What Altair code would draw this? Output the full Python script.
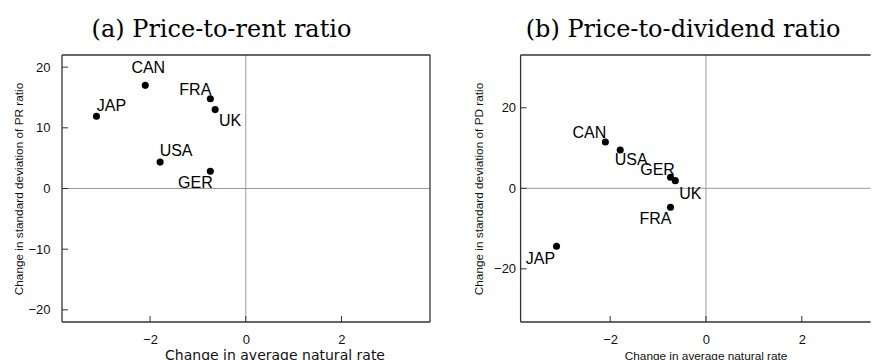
import altair as alt
import pandas as pd

# ---------------- data ----------------
countries = ["CAN", "JAP", "FRA", "UK", "USA", "GER"]
natural_rate_change = [-2.10, -3.12, -0.74, -0.64, -1.79, -0.74]
pr_sd_change = [17.0, 11.9, 14.8, 13.0, 4.35, 2.85]
pd_sd_change = [11.5, -14.4, -4.7, 1.9, 9.5, 2.75]

pr_y_ticks = [-20, -10, 0, 10, 20]
pd_y_ticks = [-20, 0, 20]
x_ticks = [-2, 0, 2]

df_pr = pd.DataFrame({"country": countries, "x": natural_rate_change, "y": pr_sd_change})
df_pd = pd.DataFrame({"country": countries, "x": natural_rate_change, "y": pd_sd_change})

# label offsets (pixels, label centre relative to point centre) -- styling only
pr_offsets = {"CAN": (3, -17), "JAP": (15, -10), "FRA": (-15, -9),
              "UK": (15, 11), "USA": (16, -11), "GER": (-15, 12)}
pd_offsets = {"CAN": (-16, -9), "JAP": (-16, 13), "FRA": (-15, 11.5),
              "UK": (15, 13), "USA": (11, 10), "GER": (-13, -7)}

H = 267
SANS = "Liberation Sans"
FRAME = "#333"


def panel(df, xdom, ydom, yticks, width, title, title_dx, ytitle,
          ylabel_pad, xtitle_font, xtitle_size, xtitle_x, ytitle_x, offsets,
          right_frame):
    xs = alt.Scale(domain=xdom, nice=False, zero=False)
    ys = alt.Scale(domain=ydom, nice=False, zero=False)
    xaxis = alt.Axis(values=x_ticks, ticks=False, domain=False, grid=False,
                     labelFont=SANS, labelFontSize=13, labelColor="#111",
                     labelPadding=11, title="Change in average natural rate",
                     titleFont=xtitle_font, titleFontSize=xtitle_size,
                     titleFontWeight="normal", titleColor="#111",
                     titleX=xtitle_x, titleY=37, titleBaseline="alphabetic",
                     titleAlign="center")
    yaxis = alt.Axis(values=yticks, ticks=False, domain=False, grid=False,
                     labelFont=SANS, labelFontSize=13, labelColor="#111",
                     labelPadding=ylabel_pad, title=ytitle,
                     titleFont=SANS, titleFontSize=11.8,
                     titleFontWeight="normal", titleColor="#111",
                     titleX=ytitle_x, titleY=H / 2, titleAngle=270,
                     titleBaseline="middle", titleAlign="center")

    pts = alt.Chart(df).mark_circle(size=50, color="black", opacity=1).encode(
        x=alt.X("x:Q", scale=xs, axis=xaxis),
        y=alt.Y("y:Q", scale=ys, axis=yaxis),
    )
    zero_x = alt.Chart(pd.DataFrame({"x": [0]})).mark_rule(
        color="#9a9a9a", strokeWidth=1).encode(x=alt.X("x:Q", scale=xs, axis=xaxis))
    zero_y = alt.Chart(pd.DataFrame({"y": [0]})).mark_rule(
        color="#9a9a9a", strokeWidth=1).encode(y=alt.Y("y:Q", scale=ys, axis=yaxis))

    ytick = alt.Chart(pd.DataFrame({"y": yticks})).mark_rule(
        color=FRAME, strokeWidth=1).encode(
        y=alt.Y("y:Q", scale=ys, axis=yaxis), x=alt.value(0), x2=alt.value(6))
    xtick = alt.Chart(pd.DataFrame({"x": x_ticks})).mark_rule(
        color=FRAME, strokeWidth=1).encode(
        x=alt.X("x:Q", scale=xs, axis=xaxis), y=alt.value(H), y2=alt.value(H - 6))

    # plot frame
    base = alt.Chart(pd.DataFrame({"k": [0]}))
    frame = [
        base.mark_rule(color=FRAME, strokeWidth=1.3).encode(
            x=alt.value(0), x2=alt.value(width), y=alt.value(0)),
        base.mark_rule(color=FRAME, strokeWidth=1.3).encode(
            x=alt.value(0), x2=alt.value(width), y=alt.value(H)),
        base.mark_rule(color=FRAME, strokeWidth=1.3).encode(
            x=alt.value(0), y=alt.value(0), y2=alt.value(H)),
    ]
    if right_frame:
        frame.append(base.mark_rule(color=FRAME, strokeWidth=1.3).encode(
            x=alt.value(width), y=alt.value(0), y2=alt.value(H)))

    labels = []
    for c in countries:
        dx, dy = offsets[c]
        labels.append(
            alt.Chart(df).transform_filter(alt.datum.country == c).mark_text(
                font=SANS, fontSize=16, color="black", align="center",
                baseline="middle", dx=dx, dy=dy).encode(
                x=alt.X("x:Q", scale=xs, axis=xaxis),
                y=alt.Y("y:Q", scale=ys, axis=yaxis), text="country:N"))

    return alt.layer(zero_x, zero_y, *frame, ytick, xtick, pts, *labels).properties(
        width=width, height=H,
        title=alt.TitleParams(title, font="DejaVu Serif", fontSize=24,
                              fontWeight="normal", color="black", anchor="middle",
                              frame="group", dx=title_dx, baseline="alphabetic",
                              offset=-7))


left = panel(df_pr, [-3.84, 3.85], [-22, 22], pr_y_ticks, 368,
             "(a) Price-to-rent ratio", -24.5,
             "Change in standard deviation of PR ratio", 12,
             "DejaVu Sans", 14, 212.5, -43.5, pr_offsets, True)
right = panel(df_pd, [-3.87, 3.437], [-33.2, 33.1], pd_y_ticks, 350,
              "(b) Price-to-dividend ratio", -12.5,
              "Change in standard deviation of PD ratio", 5,
              SANS, 11.8, 185, -42.5, pd_offsets, False)

chart = alt.hconcat(left, right, spacing=41.6).properties(
    padding={"left": 5, "top": 10, "right": 0, "bottom": 0},
    background="white"
).configure_view(stroke=None)

chart.save("out.html", embed_options={"renderer": "svg", "actions": False})
